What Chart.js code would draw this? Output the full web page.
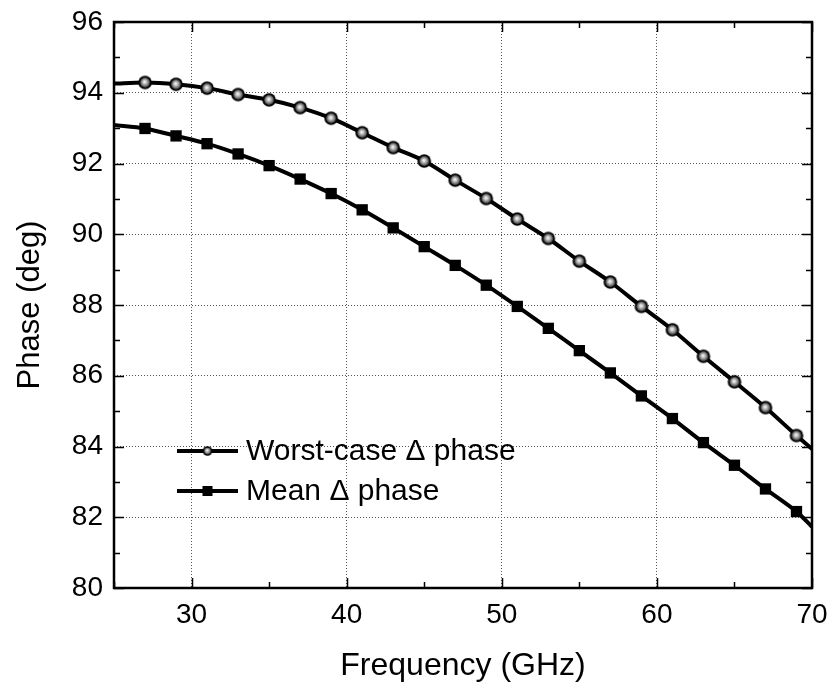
<!DOCTYPE html>
<html>
<head>
<meta charset="utf-8">
<script src="https://cdn.jsdelivr.net/npm/chart.js@4.4.0/dist/chart.umd.min.js"></script>
<style>
  html, body { margin: 0; padding: 0; background: #fff; }
  #wrap { width: 833px; height: 690px; }
</style>
</head>
<body>
<div id="wrap"><canvas id="phasey" width="833" height="690"></canvas></div>
<script>
// frequency points (GHz): curve ends at 25 and 70, markers every 2 GHz in between
var freq = [25, 27, 29, 31, 33, 35, 37, 39, 41, 43, 45, 47, 49, 51, 53, 55, 57, 59, 61, 63, 65, 67, 69, 70];
var worstCase = [94.26, 94.29, 94.24, 94.13, 93.95, 93.80, 93.58, 93.28, 92.87, 92.45, 92.07, 91.53,
                 91.01, 90.43, 89.88, 89.24, 88.65, 87.96, 87.30, 86.55, 85.83, 85.10, 84.31, 83.93];
var meanPhase = [93.09, 92.99, 92.78, 92.56, 92.27, 91.94, 91.56, 91.15, 90.69, 90.18, 89.65, 89.12,
                 88.56, 87.96, 87.34, 86.71, 86.08, 85.43, 84.79, 84.11, 83.47, 82.80, 82.16, 81.73];
var xTicks = [30, 40, 50, 60, 70];
var xMinor = [25, 35, 45, 55, 65];
var yTicks = [80, 82, 84, 86, 88, 90, 92, 94, 96];
var yMinor = [81, 83, 85, 87, 89, 91, 93, 95];
var seriesNames = ['Worst-case \u0394 phase', 'Mean \u0394 phase'];

var FONT = "'Liberation Sans', Arial, Helvetica, sans-serif";

// shaded ball marker
function ball(r) {
	var c = document.createElement('canvas');
	var s = Math.ceil(r * 2 + 2);
	c.width = s; c.height = s;
	var g = c.getContext('2d');
	var m = s / 2;
	g.beginPath(); g.arc(m, m, r, 0, Math.PI * 2); g.fillStyle = '#000'; g.fill();
	var grad = g.createRadialGradient(m - 0.5, m - 0.8, 0, m, m, r * 0.75);
	grad.addColorStop(0, '#ffffff');
	grad.addColorStop(0.35, '#c8c8c8');
	grad.addColorStop(1, '#3a3a3a');
	g.beginPath(); g.arc(m, m, r * 0.72, 0, Math.PI * 2); g.fillStyle = grad; g.fill();
	return c;
}
var bigBall = ball(6.8);
var smallBall = ball(4.8);

function markRadius(n, r) {
	return freq.map(function (f, i) { return (i === 0 || i === n - 1) ? 0 : r; });
}

function pts(ys) {
	return freq.map(function (f, i) { return { x: f, y: ys[i] }; });
}

// keep the plot box where the layout padding puts it
function noPad(scale) {
	scale.paddingTop = 0; scale.paddingBottom = 0;
	scale.paddingLeft = 0; scale.paddingRight = 0;
}

// frame, inward ticks and in-plot legend
var framey = {
	id: 'framey',
	beforeDatasetsDraw: function (chart) {
		var ctx = chart.ctx, a = chart.chartArea;
		var xs = chart.scales.x, ys = chart.scales.y;
		ctx.save();
		ctx.strokeStyle = '#000';
		ctx.lineWidth = 1.5;
		ctx.beginPath();
		xTicks.forEach(function (v) {
			var p = Math.round(xs.getPixelForValue(v)) + 0.5;
			ctx.moveTo(p, a.bottom); ctx.lineTo(p, a.bottom - 10);
			ctx.moveTo(p, a.top); ctx.lineTo(p, a.top + 10);
		});
		xMinor.forEach(function (v) {
			var p = Math.round(xs.getPixelForValue(v)) + 0.5;
			ctx.moveTo(p, a.bottom); ctx.lineTo(p, a.bottom - 6);
			ctx.moveTo(p, a.top); ctx.lineTo(p, a.top + 6);
		});
		yTicks.forEach(function (v) {
			var p = Math.round(ys.getPixelForValue(v)) + 0.5;
			ctx.moveTo(a.left, p); ctx.lineTo(a.left + 10, p);
			ctx.moveTo(a.right, p); ctx.lineTo(a.right - 10, p);
		});
		yMinor.forEach(function (v) {
			var p = Math.round(ys.getPixelForValue(v)) + 0.5;
			ctx.moveTo(a.left, p); ctx.lineTo(a.left + 6, p);
			ctx.moveTo(a.right, p); ctx.lineTo(a.right - 6, p);
		});
		ctx.stroke();
		ctx.lineWidth = 2.5;
		ctx.strokeRect(a.left, a.top, a.right - a.left, a.bottom - a.top);
		ctx.restore();
	},
	afterDraw: function (chart) {
		var ctx = chart.ctx, a = chart.chartArea;
		var x0 = a.left + 63, x1 = a.left + 124, tx = a.left + 132;
		var rows = [a.top + 429, a.top + 469];
		ctx.save();
		ctx.strokeStyle = '#000';
		ctx.lineWidth = 4;
		rows.forEach(function (y, i) {
			ctx.beginPath(); ctx.moveTo(x0, y); ctx.lineTo(x1, y); ctx.stroke();
			var mx = (x0 + x1) / 2;
			if (i === 0) {
				ctx.drawImage(smallBall, mx - smallBall.width / 2, y - smallBall.height / 2);
			} else {
				ctx.fillStyle = '#000';
				ctx.fillRect(mx - 5, y - 5, 10, 10);
			}
			ctx.fillStyle = '#000';
			ctx.font = '30px ' + FONT;
			ctx.textBaseline = 'middle';
			ctx.textAlign = 'left';
			ctx.fillText(seriesNames[i], tx, y + 1);
		});
		ctx.restore();
	}
};

var phasey = document.getElementById('phasey').getContext('2d');
var myChart = new Chart(phasey, {
	type: 'line',
	data: {
		datasets: [{
			label: seriesNames[0],
			data: pts(worstCase),
			borderColor: '#000',
			borderWidth: 4,
			tension: 0.3,
			pointStyle: bigBall,
			pointRadius: markRadius(freq.length, 6.8),
			pointHoverRadius: 0
		}, {
			label: seriesNames[1],
			data: pts(meanPhase),
			borderColor: '#000',
			backgroundColor: '#000',
			borderWidth: 4,
			tension: 0.3,
			pointStyle: 'rect',
			pointRadius: markRadius(freq.length, 8),
			pointBorderWidth: 0,
			pointBackgroundColor: '#000',
			pointHoverRadius: 0
		}]
	},
	options: {
		responsive: false,
		animation: false,
		events: [],
		layout: { padding: { top: 22, right: 21, left: 0, bottom: 0 } },
		plugins: { legend: { display: false }, tooltip: { enabled: false } },
		scales: {
			x: {
				type: 'linear',
				min: 25,
				max: 70,
				afterBuildTicks: function (scale) {
					scale.ticks = xTicks.map(function (v) { return { value: v }; });
				},
				afterFit: function (scale) { scale.height = 102; noPad(scale); },
				grid: { color: '#555', lineWidth: 1, drawTicks: false },
				border: { display: false, dash: [1, 2] },
				ticks: { color: '#000', font: { family: FONT, size: 28 }, padding: 10, maxRotation: 0 },
				title: { display: true, text: 'Frequency (GHz)', color: '#000', font: { family: FONT, size: 32 }, padding: { top: 0, bottom: 5 } }
			},
			y: {
				min: 80,
				max: 96,
				afterBuildTicks: function (scale) {
					scale.ticks = yTicks.map(function (v) { return { value: v }; });
				},
				afterFit: function (scale) { scale.width = 114; noPad(scale); },
				grid: { color: '#555', lineWidth: 1, drawTicks: false },
				border: { display: false, dash: [1, 2] },
				ticks: { color: '#000', font: { family: FONT, size: 28 }, padding: 11 },
				title: { display: true, text: 'Phase (deg)', color: '#000', font: { family: FONT, size: 31 }, padding: { top: 12, bottom: 0 } }
			}
		}
	},
	plugins: [framey]
});
</script>
</body>
</html>
